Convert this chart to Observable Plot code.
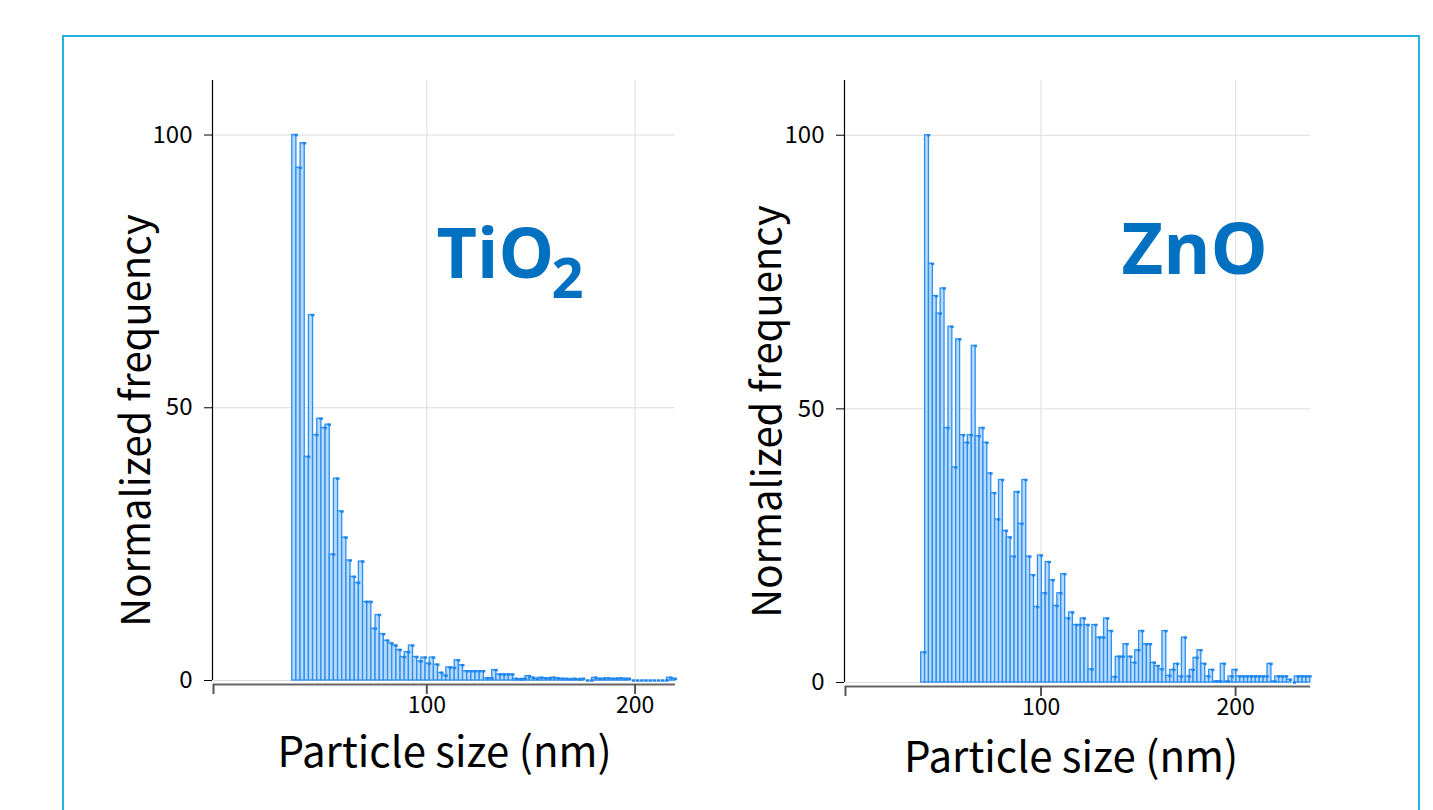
<!DOCTYPE html>
<html>
<head>
<meta charset="utf-8">
<script src="https://cdn.jsdelivr.net/npm/d3@7"></script>
<script src="https://cdn.jsdelivr.net/npm/@observablehq/plot@0.6"></script>
<style>
  html, body { margin: 0; padding: 0; background: #fff; }
  body { width: 1433px; height: 810px; position: relative; overflow: hidden; font-family: "Noto Sans CJK JP", "Noto Sans", sans-serif; }
  #box { position: absolute; left: 62px; top: 35px; width: 1358px; height: 820px; border: 2px solid #22b4dc; box-sizing: border-box; }
  .panel { position: absolute; top: 40px; }
  #p1 { left: 100px; }
  #p2 { left: 730px; }
</style>
</head>
<body>
<div id="box"></div>
<div id="p1" class="panel"></div>
<div id="p2" class="panel"></div>
<script>
// ---- Data ----
const tio2Start = 35.4;   // nm, left edge of first bin
const tio2Width = 2.0;    // nm, bin width
const tio2Values = [
  100, 94, 98.5, 41, 67, 45, 48, 46.3, 46.9, 23.1,
  37, 31, 26.2, 22, 19, 17.9, 21.8, 14.4, 14.4, 9.5,
  12, 8.5, 7.3, 6.8, 6.4, 5.6, 4.3, 5.2, 6.4, 4.3,
  3.5, 4.2, 3.1, 4.2, 2.9, 1.4, 0.9, 2.4, 2.3, 3.7,
  2.8, 1.7, 1.7, 1.7, 1.7, 1.7, 0.4, 0.4, 1.9, 1.1,
  1.1, 1.1, 1.1, 0.3, 0.2, 0.3, 0.8, 0.5, 0.3, 0.5,
  0.4, 0.4, 0.5, 0.4, 0.3, 0.3, 0.2, 0.3, 0.2, 0.3,
  0, 0, 0.5, 0.3, 0.3, 0.4, 0.3, 0.3, 0.4, 0.3,
  0.3, 0, 0, 0, 0, 0, 0, 0, 0, 0,
  0.5, 0.3
];
const znoStart = 38.4;
const znoWidth = 2.0;
const znoValues = [
  5.5, 100, 76.5, 70.6, 67.4, 72, 46.5, 65, 39.3, 62.7,
  45.2, 43.8, 45.2, 61.5, 45, 46.5, 43.8, 38.2, 34.6, 29.8,
  37, 27.7, 26.5, 23, 34.8, 29, 37, 23, 19.6, 13.8,
  23.2, 16.3, 22, 18.7, 14, 16.3, 19.8, 11.7, 12.8, 10.5,
  10.5, 11.7, 10.5, 2.4, 10.5, 8.2, 8.2, 11.7, 9.4, 1,
  4.7, 4.7, 7, 4.7, 3.6, 5.9, 9.4, 7, 7, 3.6,
  3, 2.4, 9.4, 1.2, 2.3, 3.4, 1.1, 8.2, 1.1, 2.3,
  4.5, 5.9, 3.4, 1.1, 2.3, 0.2, 0.2, 3.4, 0.2, 1.1,
  2.3, 1.1, 1.1, 1.1, 1.1, 1.1, 1.1, 1.1, 1.1, 3.4,
  0.2, 1.1, 1.1, 1.1, 0.5, 0, 1.1, 1.1, 1.1, 1.1
];
const tio2Domain = [-2.4, 219.4];
const znoDomain = [-0.5, 238.5];
const yTicks = [0, 50, 100];
const xTicks = [100, 200];
const yLabel = "Normalized frequency";
const xLabel = "Particle size (nm)";

const FONT = '"Noto Sans CJK JP", "Noto Sans", sans-serif';
const TITLE_FONT = '"Open Sans", sans-serif';
const titleColor = "#0070c0";

function bins(start, w, values) {
  return values.map((v, i) => ({x1: start + i * w, x2: start + (i + 1) * w, v}));
}

function panel(opts) {
  const {data, w, domain, marginLeft, marginRight, marginBottom, title, ylab, xlab} = opts;
  return Plot.plot({
    width: 620,
    height: 740,
    marginTop: 40,
    marginLeft,
    marginRight,
    marginBottom,
    style: {fontFamily: FONT, background: "transparent", overflow: "visible"},
    x: {domain, axis: null},
    y: {domain: [0, 110], axis: null},
    marks: [
      Plot.gridY(yTicks, {stroke: "#dcdcdc", strokeOpacity: 1}),
      Plot.gridX(xTicks, {stroke: "#dcdcdc", strokeOpacity: 1}),
      Plot.rectY(data, {x1: "x1", x2: "x2", y: "v", fill: "#b9dafa", stroke: "#2a8ff2", strokeWidth: 1.3}),
      Plot.link(data, {
        x1: d => d.x1 + w * 0.5, x2: d => d.x2 + w * 0.35,
        y1: "v", y2: "v", stroke: "#1f86ee", strokeWidth: 2.5
      }),
      // y axis
      Plot.ruleX([domain[0]], {stroke: "#000", strokeWidth: 1.2, dx: -1}),
      Plot.axisY(yTicks, {tickSize: 8, tickPadding: 12, fontSize: 24, stroke: "#000", color: "#000", label: null, dx: -1}),
      // x axis (offset below the frame)
      Plot.ruleY([0], {stroke: "#666", strokeWidth: 2, dy: 4}),
      Plot.axisX([domain[0], ...xTicks], {
        tickSize: 10, tickPadding: 2, fontSize: 23, stroke: "#555", strokeWidth: 2,
        tickFormat: d => (xTicks.includes(d) ? String(d) : ""), label: null, dy: 4
      }),
      // axis titles
      Plot.text([yLabel], {frameAnchor: "left", textAnchor: "middle", lineAnchor: "middle", rotate: -90, dx: ylab.dx, dy: ylab.dy, fontSize: 40, fill: "#000"}),
      Plot.text([xLabel], {frameAnchor: "bottom", textAnchor: "middle", lineAnchor: "middle", dx: xlab.dx, dy: xlab.dy, fontSize: 42, fill: "#000"}),
      // panel title
      ...title
    ]
  });
}

const tio2Data = bins(tio2Start, tio2Width, tio2Values);
const znoData = bins(znoStart, znoWidth, znoValues);

document.getElementById("p1").append(panel({
  data: tio2Data, w: tio2Width, domain: tio2Domain,
  marginLeft: 113, marginRight: 45, marginBottom: 100,
  ylab: {dx: -76, dy: 40}, xlab: {dx: 0, dy: 73},
  title: [
    Plot.text(["TiO"], {frameAnchor: "top-left", textAnchor: "start", lineAnchor: "bottom", dx: 223, dy: 197, fontSize: 70, fontWeight: "bold", fill: titleColor, fontFamily: TITLE_FONT}),
    Plot.text(["2"], {frameAnchor: "top-left", textAnchor: "start", lineAnchor: "bottom", dx: 338, dy: 217, fontSize: 56, fontWeight: "bold", fill: titleColor, fontFamily: TITLE_FONT})
  ]
}));

document.getElementById("p2").append(panel({
  data: znoData, w: znoWidth, domain: znoDomain,
  marginLeft: 115, marginRight: 40, marginBottom: 98,
  ylab: {dx: -77, dy: 30}, xlab: {dx: -7, dy: 76},
  title: [
    Plot.text(["ZnO"], {frameAnchor: "top-left", textAnchor: "start", lineAnchor: "bottom", dx: 276, dy: 193, fontSize: 72, fontWeight: "bold", fill: titleColor, fontFamily: TITLE_FONT})
  ]
}));
</script>
</body>
</html>
